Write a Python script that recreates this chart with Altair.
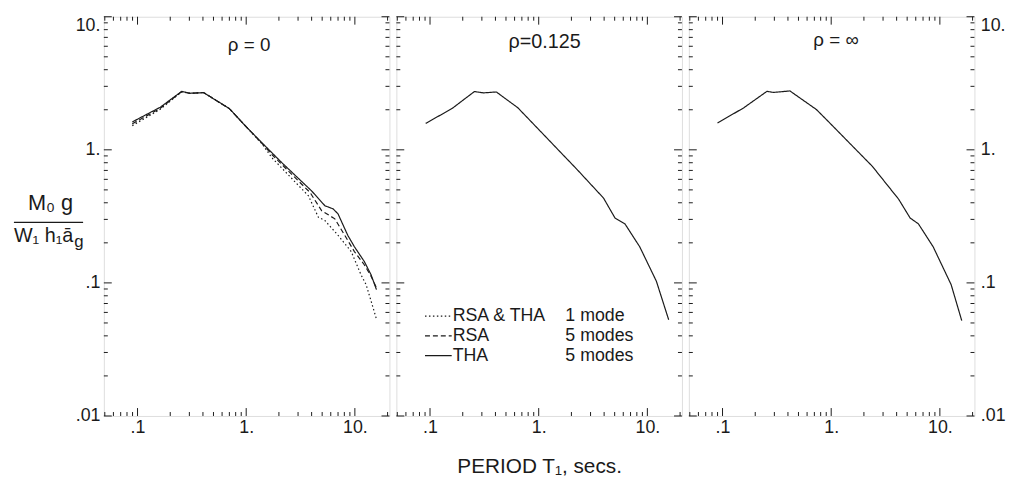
import altair as alt
import pandas as pd

# ---------------- data ----------------
# Panel rho = 0
p1_tha5_T = [0.0895, 0.162, 0.255, 0.303, 0.406, 0.53, 0.70, 1.0, 1.41, 2.14, 4.0, 5.3, 6.3, 7.0, 8.6, 9.9, 12.2, 14.1, 15.8]
p1_tha5_M = [1.62, 2.09, 2.75, 2.66, 2.69, 2.35, 2.04, 1.49, 1.12, 0.797, 0.491, 0.38, 0.36, 0.33, 0.228, 0.187, 0.145, 0.115, 0.089]
p1_rsa5_T = [0.0895, 0.162, 0.255, 0.303, 0.406, 0.53, 0.70, 1.0, 1.41, 1.73, 3.87, 4.94, 6.54, 8.06, 9.9, 12.2, 14.1, 15.8]
p1_rsa5_M = [1.57, 2.05, 2.74, 2.66, 2.69, 2.35, 2.04, 1.49, 1.11, 0.918, 0.478, 0.349, 0.303, 0.228, 0.172, 0.137, 0.112, 0.092]
p1_one_T = [0.0895, 0.162, 0.255, 0.303, 0.406, 0.53, 0.70, 1.0, 1.41, 1.73, 3.74, 4.61, 5.3, 7.0, 9.25, 11.4, 12.7, 15.8]
p1_one_M = [1.52, 2.02, 2.73, 2.66, 2.69, 2.35, 2.04, 1.49, 1.10, 0.869, 0.451, 0.312, 0.294, 0.228, 0.172, 0.115, 0.097, 0.0535]
# Panel rho = 0.125
p2_T = [0.0912, 0.159, 0.256, 0.309, 0.408, 0.643, 1.01, 2.26, 3.95, 5.04, 6.21, 8.5, 12.1, 15.7]
p2_M = [1.58, 2.04, 2.74, 2.68, 2.72, 2.07, 1.41, 0.71, 0.434, 0.307, 0.278, 0.187, 0.103, 0.0529]
# Panel rho = infinity
p3_T = [0.0899, 0.157, 0.256, 0.295, 0.417, 0.730, 0.964, 2.39, 4.17, 5.33, 6.34, 8.67, 12.7, 15.9]
p3_M = [1.59, 2.07, 2.75, 2.70, 2.77, 2.01, 1.60, 0.752, 0.426, 0.307, 0.278, 0.187, 0.097, 0.052]

series_names = ["RSA & THA 1 mode", "RSA 5 modes", "THA 5 modes"]
panel_titles = ["ρ = 0", "ρ=0.125", "ρ = ∞"]
legend_names = ["RSA & THA", "RSA", "THA"]
legend_modes = ["1 mode", "5 modes", "5 modes"]

x_label_values = [0.1, 1, 10]
y_label_values = [0.01, 0.1, 1, 10]
x_minor = [0.05, 0.06, 0.07, 0.08, 0.09, 0.2, 0.3, 0.4, 0.5, 0.6, 0.7, 0.8, 0.9,
           2, 3, 4, 5, 6, 7, 8, 9, 20]
y_minor = [0.02, 0.03, 0.04, 0.05, 0.06, 0.07, 0.08, 0.09,
           0.2, 0.3, 0.4, 0.5, 0.6, 0.7, 0.8, 0.9,
           2, 3, 4, 5, 6, 7, 8, 9]

# ---------------- styling ----------------
W, H = 289, 404
XDOM = [0.049, 20.8]
YDOM = [0.01, 10]
INK = "#1a1a1a"
FONT = "Liberation Sans"

xs = alt.Scale(type="log", domain=XDOM, nice=False)
ys = alt.Scale(type="log", domain=YDOM, nice=False)

x_label_expr = "datum.value < 0.5 ? '.1' : datum.value < 5 ? '1.' : '10.'"
y_label_expr = "datum.value < 0.05 ? '.01' : datum.value < 0.5 ? '.1' : datum.value < 5 ? '1.' : '10.'"


def make_df(T, M, name):
    return pd.DataFrame({"T": T, "M": M, "series": name})


def x_axis(title=None):
    kw = dict(values=x_label_values, labelExpr=x_label_expr, ticks=False, domain=False,
              grid=False, labelFontSize=18, labelFont=FONT, labelColor=INK,
              labelPadding=3, labelBaseline="top")
    if title:
        kw.update(title=title, titleFontSize=21, titleFont=FONT, titleFontWeight="normal",
                  titleColor=INK, titlePadding=19)
    else:
        kw.update(title=None)
    return alt.Axis(**kw)


def y_axis(orient):
    return alt.Axis(values=y_label_values, labelExpr=y_label_expr, ticks=False, domain=False,
                    grid=False, labelFontSize=18, labelFont=FONT, labelColor=INK,
                    orient=orient, labelPadding=4 if orient == "left" else 6,
                    labelBaseline={"condition": {"test": "datum.value > 5", "value": "top"},
                                   "value": "middle"},
                    title=None)


def tick_layers(xax, yax):
    out = []
    for vals, ln in ((x_label_values, 8), (x_minor, 4)):
        d = pd.DataFrame({"T": vals})
        b = alt.Chart(d).mark_rule(color=INK, strokeWidth=1)
        out.append(b.encode(x=alt.X("T:Q", scale=xs, axis=xax), y=alt.value(H), y2=alt.value(H - ln)))
        out.append(b.encode(x=alt.X("T:Q", scale=xs, axis=xax), y=alt.value(0), y2=alt.value(ln)))
    for vals, ln in ((y_label_values, 8), (y_minor, 4)):
        d = pd.DataFrame({"M": vals})
        b = alt.Chart(d).mark_rule(color=INK, strokeWidth=1)
        out.append(b.encode(y=alt.Y("M:Q", scale=ys, axis=yax), x=alt.value(0), x2=alt.value(ln)))
        out.append(b.encode(y=alt.Y("M:Q", scale=ys, axis=yax), x=alt.value(W), x2=alt.value(W - ln)))
    return out


def text_layer(txt, x, y, size=19, align="center", baseline="middle"):
    return alt.Chart(pd.DataFrame({"t": [txt]})).mark_text(
        font=FONT, fontSize=size, color=INK, align=align, baseline=baseline
    ).encode(x=alt.value(x), y=alt.value(y), text="t:N")


def lines_layer(df, xax, yax):
    return alt.Chart(df).mark_line(color=INK, clip=True).encode(
        x=alt.X("T:Q", scale=xs, axis=xax),
        y=alt.Y("M:Q", scale=ys, axis=yax),
        strokeDash=alt.StrokeDash("series:N", scale=alt.Scale(domain=series_names,
                                  range=[[1.5, 2.5], [5, 3], [1, 0]]), legend=None),
        strokeWidth=alt.StrokeWidth("series:N", scale=alt.Scale(domain=series_names,
                                    range=[1.2, 1.2, 1.6]), legend=None),
    )


# ---------------- panel 1 ----------------
df1 = pd.concat([make_df(p1_one_T, p1_one_M, series_names[0]),
                 make_df(p1_rsa5_T, p1_rsa5_M, series_names[1]),
                 make_df(p1_tha5_T, p1_tha5_M, series_names[2])])
frac_bar = alt.Chart(pd.DataFrame({"k": [0]})).mark_rule(color=INK, strokeWidth=1.3).encode(
    x=alt.value(-91), x2=alt.value(-21), y=alt.value(208))
x1, y1 = x_axis(), y_axis("left")
panel1 = alt.layer(
    lines_layer(df1, x1, y1),
    *tick_layers(x1, y1),
    text_layer(panel_titles[0], 147, 29),
    text_layer("M₀ g", -54, 196, size=22, baseline="alphabetic"),
    frac_bar,
    text_layer("W₁ h₁ā", -91, 228, size=20, align="left", baseline="alphabetic"),
    text_layer("g", -30, 233, size=17, align="left", baseline="alphabetic"),
).properties(width=W, height=H)

# ---------------- panel 2 ----------------
df2 = make_df(p2_T, p2_M, series_names[2])
leg = []
dashes = [[1.5, 2.5], [5, 3], [1, 0]]
for i in range(3):
    yy = 303 + 20 * i
    leg.append(alt.Chart(pd.DataFrame({"k": [i]})).mark_rule(
        color=INK, strokeWidth=1.2, strokeDash=dashes[i]).encode(
        x=alt.value(29), x2=alt.value(56), y=alt.value(yy)))
    leg.append(text_layer(legend_names[i], 57, yy, size=18, align="left"))
    leg.append(text_layer(legend_modes[i], 171, yy, size=18, align="left"))
x2ax = x_axis("PERIOD T₁, secs.")
panel2 = alt.layer(
    lines_layer(df2, x2ax, None),
    *tick_layers(x2ax, None),
    text_layer(panel_titles[1], 150, 26, size=20),
    *leg,
).properties(width=W, height=H)

# ---------------- panel 3 ----------------
df3 = make_df(p3_T, p3_M, series_names[2])
x3, y3 = x_axis(), y_axis("right")
panel3 = alt.layer(
    lines_layer(df3, x3, y3),
    *tick_layers(x3, y3),
    text_layer(panel_titles[2], 149, 24),
).properties(width=W, height=H)

chart = alt.hconcat(panel1, panel2, panel3, spacing=5).properties(
    padding={"left": 4, "top": 5, "right": 5, "bottom": 5}
).configure_view(
    stroke=INK, strokeWidth=1.2
).configure(background="white")

chart.save("out.html", embed_options={"renderer": "svg", "actions": False})
